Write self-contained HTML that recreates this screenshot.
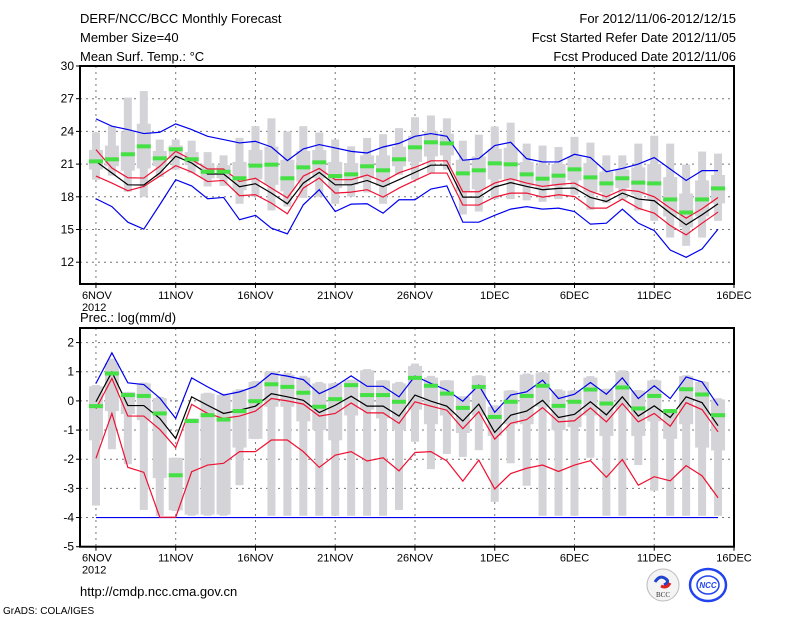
<!DOCTYPE html>
<html><head><meta charset="utf-8"><style>
body{margin:0;background:#fff;}
svg{display:block;font-family:"Liberation Sans",sans-serif;}
</style></head><body>
<svg id="c" width="800" height="618" xmlns="http://www.w3.org/2000/svg">
<g font-size="13" fill="#000">
<text x="80" y="23">DERF/NCC/BCC Monthly Forecast</text>
<text x="80" y="42">Member Size=40</text>
<text x="80" y="61">Mean Surf. Temp.: °C</text>
<text x="736" y="23" text-anchor="end">For 2012/11/06-2012/12/15</text>
<text x="736" y="42" text-anchor="end">Fcst Started Refer Date 2012/11/05</text>
<text x="736" y="61" text-anchor="end">Fcst Produced Date 2012/11/06</text>
<text x="80" y="322">Prec.: log(mm/d)</text>
<text x="80" y="596" font-size="13">http://cmdp.ncc.cma.gov.cn</text>
<text x="3" y="614" font-size="10">GrADS: COLA/IGES</text>
</g>
<g>
<circle cx="663" cy="585" r="16" fill="#f4f4f4" stroke="#bbb"/>
<path d="M655 582 q5 -8 11 -3 q4 3 -2 6" fill="none" stroke="#2244cc" stroke-width="3"/>
<path d="M670 583 q-3 6 -9 3" fill="none" stroke="#dd2222" stroke-width="3"/>
<text x="663" y="597" font-size="7" text-anchor="middle" font-family="Liberation Serif,serif" fill="#333">BCC</text>
</g>
<g>
<ellipse cx="708" cy="585" rx="18" ry="16" fill="none" stroke="#2244ee" stroke-width="2.5"/>
<ellipse cx="708" cy="585" rx="11" ry="9" fill="none" stroke="#2244ee" stroke-width="1.5"/>
<text x="708" y="588" font-size="8" font-weight="bold" font-style="italic" text-anchor="middle" fill="#2244ee">NCC</text>
</g>
<g id="top"></g>
<g id="bot"></g>
</svg>
<script>
// ---- Temperature panel data ----
const tMax=[23.9,24.48,27.1,27.7,23.25,23.25,23.15,22.1,21.8,23.4,24.48,25.2,24.0,24.48,23.9,23.25,22.63,23.4,23.74,24.3,25.3,25.46,25.2,23.15,23.7,24.45,24.8,22.88,22.7,22.57,23.5,22.97,21.8,21.8,22.88,23.6,22.88,20.95,22.15,21.96];
const tMin=[19.57,19.94,18.46,18.0,19.81,20.49,20.18,18.95,19.0,17.36,18.0,16.75,17.1,17.9,18.0,17.36,18.0,18.4,17.36,20.03,19.57,20.18,20.49,16.38,16.65,17.79,17.79,17.67,17.54,17.79,18.19,16.8,17.42,17.73,16.75,15.8,14.26,13.5,14.26,15.8];
const tBoxHi=[22.3,22.7,24.0,24.7,22.2,22.7,22.1,21.0,20.9,21.2,22.3,22.6,21.4,22.2,22.3,21.2,21.1,21.8,21.8,22.6,23.6,24.0,23.8,21.4,21.7,22.4,22.5,21.2,20.9,21.0,21.7,21.1,20.3,20.5,20.7,21.0,19.8,18.3,19.5,20.0];
const tBoxLo=[20.5,20.8,20.4,20.6,20.8,21.5,20.9,19.7,19.7,18.6,19.6,19.1,18.5,19.4,19.7,18.8,19.1,19.7,19.0,20.8,21.2,21.7,21.8,18.5,18.7,19.6,19.5,19.0,18.7,19.0,19.5,18.4,18.4,18.8,18.2,17.7,16.2,15.2,16.2,17.4];
const tMed=[21.25,21.44,21.9,22.63,21.53,22.36,21.44,20.3,20.3,19.7,20.86,20.95,19.7,20.7,21.16,19.9,20.06,20.8,20.43,21.44,22.54,23.0,22.9,20.15,20.43,21.07,20.98,20.06,19.66,19.94,20.52,19.78,19.23,19.7,19.3,19.23,17.76,16.56,17.76,18.77];
const tMean=[21.25,20.18,19.1,19.08,20.18,21.72,21.1,20.09,20.09,18.92,19.2,18.34,17.36,19.26,20.24,19.1,19.1,19.5,18.92,19.57,20.24,20.9,20.9,17.97,17.97,18.9,19.3,18.95,18.65,18.77,18.8,17.94,17.57,18.34,17.79,17.64,16.5,15.43,16.35,17.36];
const tRedHi=[22.33,20.64,19.75,19.72,20.8,22.17,21.4,20.55,20.55,19.4,19.7,18.8,17.9,19.9,20.6,19.57,19.57,20.0,19.4,20.2,20.7,21.3,21.3,18.46,18.46,19.26,19.66,19.26,18.95,19.14,19.26,18.5,18.0,18.65,18.5,18.0,16.96,16.04,16.9,17.94];
const tRedLo=[19.9,19.26,18.56,18.95,19.9,20.86,20.27,19.4,19.5,18.1,18.19,17.42,16.44,18.8,19.72,18.34,18.43,18.65,17.97,18.8,19.5,20.18,20.18,17.24,17.24,17.97,18.34,18.34,17.97,18.19,18.03,16.96,16.96,17.79,16.96,16.5,15.37,14.5,15.58,16.6];
const tBlueHi=[25.15,24.48,24.17,23.8,23.92,24.69,24.17,23.55,23.25,22.94,23.09,22.57,21.32,22.39,22.79,22.48,22.17,22.02,22.57,22.9,23.55,23.8,23.55,21.35,21.5,22.7,23.0,21.5,21.2,21.2,21.9,21.6,20.3,20.6,21.0,21.6,20.55,19.5,20.4,20.4];
const tBlueLo=[17.82,17.1,15.67,15.03,17.27,19.57,19.0,17.82,17.94,15.9,16.3,15.12,14.6,17.27,18.65,16.65,17.33,17.36,16.5,17.73,17.73,18.71,19.0,15.67,15.67,16.3,16.87,17.1,16.87,16.96,16.65,15.49,15.58,16.87,15.58,14.9,13.12,12.45,13.22,15.03];
const tTicks=[12,15,18,21,24,27,30];
// ---- Precipitation panel data ----
const pMax=[0.54,1.45,0.31,0.63,0.14,-1.95,-0.6,0.28,0.25,0.4,0.68,1.02,0.96,0.86,0.65,0.62,0.73,1.09,0.71,0.65,1.28,0.86,0.71,0.16,0.88,-0.15,0.37,0.94,0.99,0.4,0.37,0.85,0.42,1.05,0.37,0.73,-0.28,0.88,0.68,0.09];
const pMin=[-3.59,-1.66,-2.17,-3.74,-3.94,-3.78,-3.94,-3.94,-3.94,-2.89,-1.31,-3.94,-3.94,-3.94,-3.94,-3.94,-3.94,-3.94,-3.94,-3.74,-1.4,-2.34,-1.82,-1.92,-1.69,-3.46,-2.14,-2.91,-3.94,-3.94,-3.94,-1.95,-3.94,-3.94,-2.2,-3.08,-3.94,-3.94,-3.94,-3.94];
const pBoxHi=[0.5,1.3,0.3,0.6,0.1,-1.95,-0.6,0.25,0.2,0.35,0.65,1.0,0.9,0.8,0.6,0.6,0.7,1.05,0.7,0.6,1.2,0.8,0.7,0.15,0.85,-0.2,0.35,0.9,0.95,0.35,0.35,0.8,0.4,1.0,0.35,0.7,-0.3,0.85,0.65,0.05];
const pBoxLo=[-1.35,-0.35,-0.45,-0.66,-2.65,-3.75,-3.9,-3.9,-3.9,-1.6,-1.3,-0.2,-0.2,-0.7,-1.0,-1.35,-0.5,-0.3,-0.6,-1.0,-0.3,-0.8,-0.5,-1.1,-0.5,-1.2,-0.8,-0.8,-0.2,-1.0,-0.9,-0.5,-1.2,-0.3,-1.2,-0.7,-1.3,-0.8,-1.6,-1.7];
const pMed=[-0.18,0.94,0.2,0.17,-0.43,-2.55,-0.69,-0.49,-0.64,-0.35,-0.01,0.57,0.48,0.28,-0.2,0.06,0.54,0.2,0.2,-0.03,0.79,0.52,0.25,-0.24,0.48,-0.55,-0.03,0.17,0.52,-0.17,-0.03,0.39,-0.09,0.46,-0.26,0.17,-0.35,0.4,0.22,-0.49];
const pMean=[-0.03,0.99,-0.16,-0.16,-0.6,-1.29,0.14,-0.15,-0.43,-0.32,-0.18,0.25,0.14,0.02,-0.4,-0.15,0.16,-0.18,-0.18,-0.52,0.2,-0.01,-0.18,-0.69,-0.11,-1.08,-0.49,-0.35,0.02,-0.57,-0.46,-0.03,-0.48,0.14,-0.52,-0.17,-0.57,0.14,-0.06,-0.85];
const pRedHi=[-0.27,0.77,-0.52,-0.52,-0.98,-1.6,-0.12,-0.43,-0.6,-0.52,-0.35,0.08,0.0,-0.11,-0.52,-0.43,-0.07,-0.41,-0.41,-0.77,-0.03,-0.18,-0.32,-0.95,-0.37,-1.31,-0.77,-0.64,-0.23,-0.72,-0.68,-0.24,-0.72,-0.09,-0.72,-0.43,-0.87,-0.06,-0.3,-1.06];
const pRedLo=[-1.97,-0.43,-2.28,-2.45,-3.99,-3.99,-2.43,-2.2,-2.14,-1.74,-1.74,-1.34,-1.34,-1.74,-2.28,-1.86,-1.74,-2.06,-1.95,-2.4,-1.77,-1.74,-2.06,-2.75,-2.03,-3.02,-2.49,-2.31,-2.2,-2.42,-2.2,-2.05,-2.62,-2.01,-2.89,-2.6,-2.74,-2.22,-2.57,-3.32];
const pBlueHi=[0.6,1.65,0.62,0.56,0.1,-0.6,0.79,0.48,0.2,0.31,0.5,0.94,0.85,0.73,0.25,0.5,0.86,0.5,0.5,0.14,0.85,0.6,0.37,-0.01,0.54,-0.39,0.2,0.31,0.71,0.08,0.23,0.63,0.23,0.79,0.08,0.52,0.08,0.82,0.65,-0.16];
const pBlueLo=[-4,-4,-4,-4,-4,-4,-4,-4,-4,-4,-4,-4,-4,-4,-4,-4,-4,-4,-4,-4,-4,-4,-4,-4,-4,-4,-4,-4,-4,-4,-4,-4,-4,-4,-4,-4,-4,-4,-4,-4];
const pTicks=[-5,-4,-3,-2,-1,0,1,2];
const xLabels=["6NOV","11NOV","16NOV","21NOV","26NOV","1DEC","6DEC","11DEC","16DEC"];

const NS="http://www.w3.org/2000/svg";
const X0=80,X1=734;
const xs=d=>X0+(d+1)*(X1-X0)/41;
function mk(p,t,a){const e=document.createElementNS(NS,t);for(const k in a)e.setAttribute(k,a[k]);p.appendChild(e);return e;}

function panel(g,yTop,yBot,vTop,vBot,ticks,series,name,gridTicks){
  const ys=v=>yTop+(vTop-v)*(yBot-yTop)/(vTop-vBot);
  gridTicks.forEach(v=>{const l=mk(g,'line',{x1:X0,x2:X1,y1:ys(v),y2:ys(v),stroke:'#777','stroke-dasharray':'2,4','stroke-width':1});
    
    });
  for(let k=0;k<=8;k++){const x=xs(k*5);
    const l=mk(g,'line',{x1:x,x2:x,y1:yTop,y2:yBot,stroke:'#777','stroke-dasharray':'2,4','stroke-width':1});
    
    }
  const s=series;
  for(let i=0;i<s.med.length;i++){const x=xs(i);
    const w=mk(g,'rect',{x:x-4,y:ys(s.max[i]),width:8,height:Math.max(1,ys(s.min[i])-ys(s.max[i])),fill:'#d3d3d8'});
    
    
    const b=mk(g,'rect',{x:x-7,y:ys(s.bhi[i]),width:14,height:Math.max(1,ys(s.blo[i])-ys(s.bhi[i])),fill:'#d3d3d8'});
    
    
  }
  const line=(arr,col,nm)=>{const p=mk(g,'polyline',{points:arr.map((v,i)=>xs(i)+','+ys(v)).join(' '),fill:'none',stroke:col,'stroke-width':1.2});
    
    };
  line(s.bhiL,'#0000ee',name+'-blue-upper');
  line(s.bloL,'#0000ee',name+'-blue-lower');
  line(s.rhi,'#ee1133',name+'-red-upper');
  line(s.rlo,'#ee1133',name+'-red-lower');
  line(s.mean,'#000',name+'-ensemble-mean');
  for(let i=0;i<s.med.length;i++){const m=mk(g,'rect',{x:xs(i)-7,y:ys(s.med[i])-2,width:14,height:4,fill:'#44e044'});
    
    }
  const f=mk(g,'rect',{x:X0,y:yTop,width:X1-X0,height:yBot-yTop,fill:'none',stroke:'#000','stroke-width':2});
  
  
  ticks.forEach(v=>{mk(g,'line',{x1:X0-4,x2:X0,y1:ys(v),y2:ys(v),stroke:'#000'});
    const t=mk(g,'text',{x:X0-6,y:ys(v)+4,'text-anchor':'end','font-size':12});t.textContent=v;
    
    });
  xLabels.forEach((lb,k)=>{const x=xs(k*5);mk(g,'line',{x1:x,x2:x,y1:yBot,y2:yBot+4,stroke:'#000'});
    const t=mk(g,'text',{x:k==0?x-14:x,y:yBot+15,'text-anchor':k==0?'start':'middle','font-size':11});t.textContent=lb;
    
    });
  const yr=mk(g,'text',{x:xs(0)-14,y:yBot+27,'font-size':11});yr.textContent='2012';
  
  
}
panel(document.getElementById('top'),66,284,30,10,tTicks,
 {max:tMax,min:tMin,bhi:tBoxHi,blo:tBoxLo,med:tMed,mean:tMean,rhi:tRedHi,rlo:tRedLo,bhiL:tBlueHi,bloL:tBlueLo},'temp',[12,15,18,21,24,27]);
panel(document.getElementById('bot'),328,546.7,2.5,-5,pTicks,
 {max:pMax,min:pMin,bhi:pBoxHi,blo:pBoxLo,med:pMed,mean:pMean,rhi:pRedHi,rlo:pRedLo,bhiL:pBlueHi,bloL:pBlueLo},'prec',[-4,-3,-2,-1,0,1,2]);
</script>
</body></html>
